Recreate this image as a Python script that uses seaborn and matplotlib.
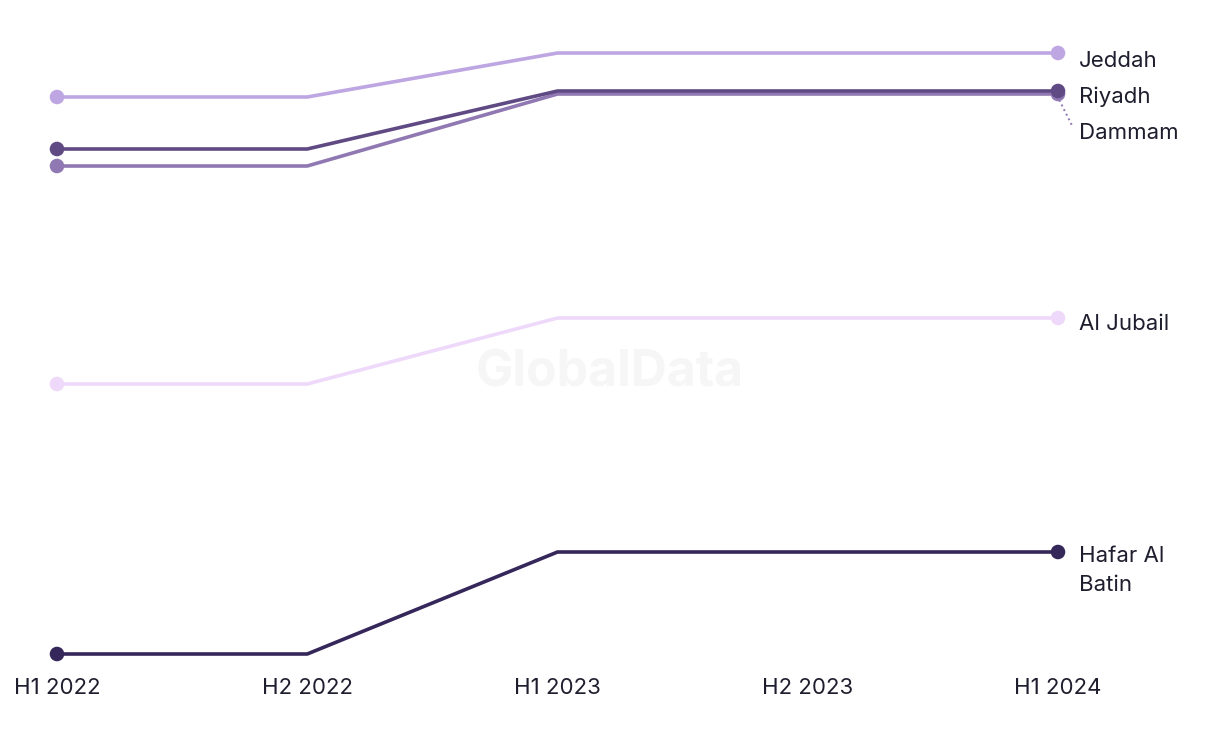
import pandas as pd
import matplotlib
matplotlib.use("Agg")
import matplotlib.pyplot as plt
import seaborn as sns

periods = ["H1 2022", "H2 2022", "H1 2023", "H2 2023", "H1 2024"]
cities = ["Hafar Al Batin", "Al Jubail", "Dammam", "Riyadh", "Jeddah"]

jeddah = [6.03, 6.03, 6.47, 6.47, 6.47]
riyadh = [5.51, 5.51, 6.09, 6.09, 6.09]
dammam = [5.34, 5.34, 6.06, 6.06, 6.06]
al_jubail = [3.16, 3.16, 3.82, 3.82, 3.82]
hafar = [0.46, 0.46, 1.48, 1.48, 1.48]

colors = {
    "Jeddah": "#bea6e2",
    "Riyadh": "#5f4a84",
    "Dammam": "#9078b2",
    "Al Jubail": "#efd9fb",
    "Hafar Al Batin": "#36275b",
}

series = {"Jeddah": jeddah, "Riyadh": riyadh, "Dammam": dammam,
          "Al Jubail": al_jubail, "Hafar Al Batin": hafar}
rows = []
for city, vals in series.items():
    for i, v in enumerate(vals):
        rows.append({"city": city, "x": i, "period": periods[i], "value": v})
df = pd.DataFrame(rows)

sns.set_style("white")
plt.rcParams["font.family"] = ["Inter", "DejaVu Sans"]

fig = plt.figure(figsize=(12.2, 7.44), dpi=100)
ax = fig.add_axes([57 / 1220, (744 - 670) / 744, (1058 - 57) / 1220, 630 / 744])

# watermark
ax.text(2.21, 3.27, "GlobalData", ha="center", va="center", fontsize=36,
        fontweight="bold", color="#f6f6f6", zorder=0)

sns.lineplot(data=df, x="x", y="value", hue="city", hue_order=cities,
             palette=colors, linewidth=2.6, legend=False, ax=ax, clip_on=False)

ends = df[df["x"].isin([0, len(periods) - 1])]
for city in cities:
    sub = ends[ends["city"] == city]
    sns.scatterplot(data=sub, x="x", y="value", color=colors[city], s=110,
                    edgecolor="none", legend=False, ax=ax, clip_on=False, zorder=3)

ax.set_xlim(0, 4)
ax.set_ylim(0.3, 6.6)
ax.set_xticks(range(len(periods)))
ax.set_xticklabels(periods, fontsize=16, color="#1e1e2e")
ax.tick_params(axis="x", length=0, pad=6)
ax.set_yticks([])
ax.set_xlabel("")
ax.set_ylabel("")
for s in ax.spines.values():
    s.set_visible(False)

# end labels
lab_kw = dict(fontsize=16, color="#1e1e2e", va="center", ha="left")
ax.text(4.083, jeddah[-1] - 0.08, "Jeddah", **lab_kw)
ax.text(4.083, riyadh[-1] - 0.06, "Riyadh", **lab_kw)
ax.text(4.083, 5.67, "Dammam", **lab_kw)
ax.plot([4.005, 4.055], [dammam[-1] - 0.06, 5.75], ls=":", color=colors["Dammam"],
        lw=1.4, clip_on=False)
ax.text(4.083, al_jubail[-1] - 0.06, "Al Jubail", **lab_kw)
ax.text(4.083, hafar[-1] + 0.06, "Hafar Al\nBatin", fontsize=16, color="#1e1e2e",
        va="top", ha="left", linespacing=1.55)

fig.savefig("out.png", dpi=100)
